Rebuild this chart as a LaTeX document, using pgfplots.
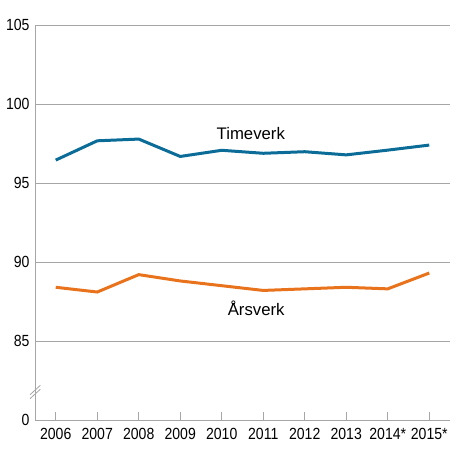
\documentclass[border=0pt]{standalone}
\usepackage{fontspec}
\setmainfont{Liberation Sans}
\newfontfamily\tickfont{Liberation Sans}[FakeStretch=0.87]
\usepackage{pgfplots}
\pgfplotsset{compat=1.18}
\definecolor{timeblue}{HTML}{0A6C97}
\definecolor{aarsorange}{HTML}{E8731C}
\definecolor{gridgray}{HTML}{A6A6A6}
\begin{document}
\begin{tikzpicture}
\begin{axis}[
  scale only axis,
  width=415bp, height=395bp,
  xmin=-0.5, xmax=9.5,
  ymin=80, ymax=105,
  xtick={0,...,9},
  xticklabels={2006,2007,2008,2009,2010,2011,2012,2013,2014*,2015*},
  ytick={80,85,90,95,100,105},
  yticklabels={0,85,90,95,100,105},
  ymajorgrids,
  grid style={gridgray, line width=0.8bp},
  axis x line*=bottom,
  axis y line*=left,
  axis line style={gridgray, line width=0.8bp, -},
  major tick length=8bp,
  xtick style={gridgray, line width=0.8bp},
  ytick style={draw=none},
  tick align=inside,
  ticklabel style={font=\tickfont\fontsize{16.2}{18}\selectfont, text=black},
  xticklabel style={yshift=-5bp},
  yticklabel style={xshift=-2bp},
  /pgf/number format/assume math mode=true,
  clip=false,
]
\addplot[timeblue, line width=3bp] coordinates {
(0,96.45) (1,97.67) (2,97.78) (3,96.68) (4,97.07) (5,96.88) (6,96.98) (7,96.78) (8,97.08) (9,97.4)
};
\addplot[aarsorange, line width=3bp] coordinates {
(0,88.4) (1,88.1) (2,89.2) (3,88.8) (4,88.5) (5,88.2) (6,88.3) (7,88.4) (8,88.3) (9,89.3)
};
\node[font=\fontsize{16.8}{18}\selectfont] at (axis cs:4.7,98.13) {Timeverk};
\node[font=\fontsize{16.8}{18}\selectfont] at (axis cs:4.83,87.1) {Årsverk};
\draw[gridgray, line width=0.8bp] (axis cs:-0.62,81.35) -- (axis cs:-0.37,81.95);
\draw[gridgray, line width=0.8bp] (axis cs:-0.62,81.6) -- (axis cs:-0.37,82.2);
\end{axis}
\pgfresetboundingbox
\path[use as bounding box] (-35bp,-40bp) rectangle (415bp,420bp);
\end{tikzpicture}
\end{document}
